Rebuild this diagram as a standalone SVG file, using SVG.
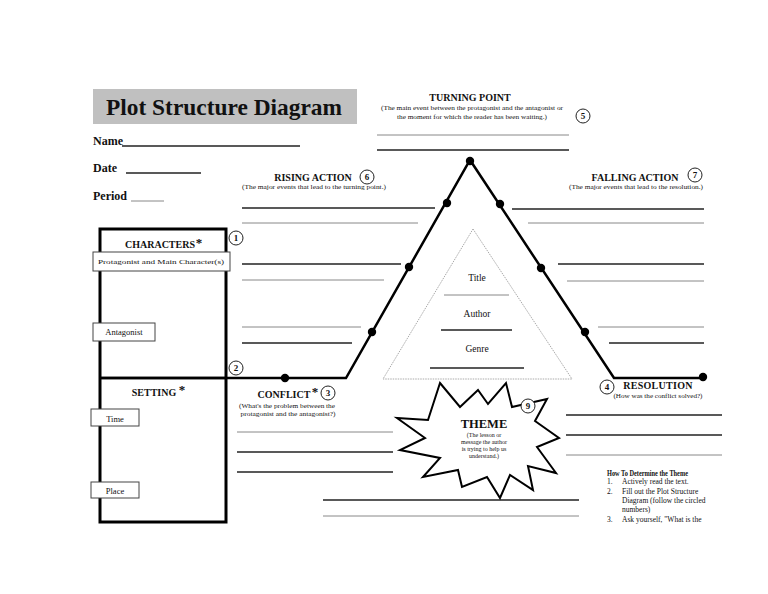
<svg xmlns="http://www.w3.org/2000/svg" width="768" height="594" viewBox="0 0 768 594">
<style>
text{font-family:"Liberation Serif","Times New Roman",serif;fill:#111}
.b{font-weight:bold}
.hd{font-weight:bold;font-size:10px}
.sm{font-size:6.5px}
.lbl{font-size:8.5px}
.dk{stroke:#222;stroke-width:1.3}
.gr{stroke:#888;stroke-width:1}
.num{fill:#fff;stroke:#222;stroke-width:1}
.nt{font-size:9px;font-weight:bold;text-anchor:middle}
.box{fill:#fff;stroke:#444;stroke-width:1}
.dot{fill:#000}
</style>
<rect width="768" height="594" fill="#fff"/>

<g id="header">
<rect x="93" y="89" width="264" height="35" fill="#c0c0c0"/>
<text x="224" y="115" class="b" font-size="22.5" text-anchor="middle" textLength="236" lengthAdjust="spacingAndGlyphs">Plot Structure Diagram</text>
<text x="93" y="145" class="b" font-size="12">Name</text>
<line x1="122" y1="146" x2="300" y2="146" class="dk"/>
<text x="93" y="172" class="b" font-size="12">Date</text>
<line x1="126" y1="173" x2="201" y2="173" class="dk"/>
<text x="93" y="200" class="b" font-size="12">Period</text>
<line x1="131" y1="201" x2="164" y2="201" class="gr"/>
</g>

<g id="connectors" fill="none">
<polyline points="100,378 346,378 470,160 614,378 703,378" stroke="#000" stroke-width="2.5" stroke-linejoin="miter"/>
<circle cx="285" cy="378" r="4.2" class="dot"/>
<circle cx="372" cy="332" r="4.2" class="dot"/>
<circle cx="409" cy="267" r="4.2" class="dot"/>
<circle cx="447" cy="203" r="4.2" class="dot"/>
<circle cx="470" cy="161" r="4.2" class="dot"/>
<circle cx="500" cy="204" r="4.2" class="dot"/>
<circle cx="541" cy="268" r="4.2" class="dot"/>
<circle cx="585" cy="332" r="4.2" class="dot"/>
<circle cx="703" cy="377" r="4.2" class="dot"/>
</g>

<g id="turning-point">
<text x="470" y="101" class="hd" text-anchor="middle">TURNING POINT</text>
<text x="472" y="110" class="sm" text-anchor="middle" textLength="182" lengthAdjust="spacingAndGlyphs">(The main event between the protagonist and the antagonist or</text>
<text x="472" y="119" class="sm" text-anchor="middle" textLength="150" lengthAdjust="spacingAndGlyphs">the moment for which the reader has been waiting.)</text>
<circle cx="583" cy="116" r="7" class="num"/><text x="583" y="119" class="nt">5</text>
<line x1="377" y1="135" x2="569" y2="135" class="gr"/>
<line x1="377" y1="150" x2="569" y2="150" class="dk"/>
</g>

<g id="rising-action">
<text x="313" y="181" class="hd" text-anchor="middle">RISING ACTION</text>
<circle cx="367" cy="177" r="7" class="num"/><text x="367" y="180" class="nt">6</text>
<text x="314" y="189" class="sm" text-anchor="middle" textLength="144" lengthAdjust="spacingAndGlyphs">(The major events that lead to the turning point.)</text>
<line x1="242" y1="208" x2="435" y2="208" class="dk"/>
<line x1="242" y1="223" x2="418" y2="223" class="gr"/>
<line x1="242" y1="264" x2="401" y2="264" class="dk"/>
<line x1="242" y1="280" x2="384" y2="280" class="gr"/>
<line x1="242" y1="327" x2="361" y2="327" class="gr"/>
<line x1="242" y1="343" x2="352" y2="343" class="dk"/>
</g>

<g id="falling-action">
<text x="635" y="181" class="hd" text-anchor="middle">FALLING ACTION</text>
<circle cx="695" cy="175" r="7" class="num"/><text x="695" y="178" class="nt">7</text>
<text x="636" y="189" class="sm" text-anchor="middle" textLength="134" lengthAdjust="spacingAndGlyphs">(The major events that lead to the resolution.)</text>
<line x1="512" y1="209" x2="704" y2="209" class="dk"/>
<line x1="528" y1="223" x2="704" y2="223" class="gr"/>
<line x1="558" y1="264" x2="704" y2="264" class="dk"/>
<line x1="567" y1="281" x2="704" y2="281" class="gr"/>
<line x1="598" y1="327" x2="704" y2="327" class="gr"/>
<line x1="609" y1="343" x2="704" y2="343" class="dk"/>
</g>

<g id="story-info">
<polygon points="473,229 572,379 383,379" fill="none" stroke="#aaa" stroke-width="1" stroke-dasharray="1.5,1"/>
<text x="477" y="281" font-size="9.5" text-anchor="middle">Title</text>
<line x1="444" y1="295" x2="509" y2="295" class="gr"/>
<text x="477" y="317" font-size="9.5" text-anchor="middle">Author</text>
<line x1="441" y1="330" x2="512" y2="330" class="dk"/>
<text x="477" y="352" font-size="9.5" text-anchor="middle">Genre</text>
<line x1="430" y1="368" x2="524" y2="368" class="dk"/>
</g>

<g id="characters-setting">
<rect x="100" y="229" width="126" height="293" fill="none" stroke="#000" stroke-width="3"/>
<line x1="100" y1="378" x2="226" y2="378" stroke="#000" stroke-width="2.5"/>
<text x="160" y="248" class="hd" text-anchor="middle">CHARACTERS</text>
<text x="199" y="247" font-size="13" class="b" text-anchor="middle">*</text>
<circle cx="236" cy="238" r="7" class="num"/><text x="236" y="241" class="nt">1</text>
<rect x="93" y="252" width="137" height="19" class="box"/>
<text x="161" y="264" class="sm" text-anchor="middle" textLength="126" lengthAdjust="spacingAndGlyphs">Protagonist and Main Character(s)</text>
<rect x="93" y="323" width="62" height="18" class="box"/>
<text x="124" y="335" class="lbl" text-anchor="middle">Antagonist</text>
<circle cx="236" cy="368" r="7" class="num"/><text x="236" y="371" class="nt">2</text>
<text x="154" y="396" class="hd" text-anchor="middle">SETTING</text>
<text x="182" y="394" font-size="13" class="b" text-anchor="middle">*</text>
<rect x="91" y="409" width="48" height="17" class="box"/>
<text x="115" y="422" class="lbl" text-anchor="middle">Time</text>
<rect x="91" y="482" width="48" height="16" class="box"/>
<text x="115" y="494" class="lbl" text-anchor="middle">Place</text>
</g>

<g id="conflict">
<text x="284" y="398" class="hd" text-anchor="middle">CONFLICT</text>
<text x="315" y="396" font-size="13" class="b" text-anchor="middle">*</text>
<circle cx="328" cy="393" r="7" class="num"/><text x="328" y="396" class="nt">3</text>
<text x="287" y="408" class="sm" text-anchor="middle" textLength="96" lengthAdjust="spacingAndGlyphs">(What's the problem between the</text>
<text x="288" y="416" class="sm" text-anchor="middle" textLength="95" lengthAdjust="spacingAndGlyphs">protagonist and the antagonist?)</text>
<line x1="237" y1="432" x2="393" y2="432" class="gr"/>
<line x1="237" y1="452" x2="393" y2="452" class="dk"/>
<line x1="237" y1="472" x2="393" y2="472" class="dk"/>
<line x1="323" y1="500" x2="579" y2="500" class="dk"/>
<line x1="323" y1="516" x2="579" y2="516" class="gr"/>
</g>

<g id="theme">
<polygon points="440,383 460,407 478,390 488,404 506,383 512,407 547,399 535,421 559,438 537,447 556,473 528,466 533,490 510,475 500,498 487,477 462,487 458,470 423,477 440,458 400,450 425,438 397,418 428,420" fill="#fff" stroke="#000" stroke-width="2" stroke-linejoin="miter"/>
<circle cx="528" cy="406" r="7" class="num"/><text x="528" y="409" class="nt">9</text>
<text x="484" y="428" class="b" font-size="12.5" text-anchor="middle">THEME</text>
<text x="484" y="437" font-size="6" text-anchor="middle">(The lesson or</text>
<text x="484" y="444" font-size="6" text-anchor="middle">message the author</text>
<text x="484" y="451" font-size="6" text-anchor="middle">is trying to help us</text>
<text x="484" y="458" font-size="6" text-anchor="middle">understand.)</text>
</g>

<g id="resolution">
<circle cx="607" cy="387" r="7" class="num"/><text x="607" y="390" class="nt">4</text>
<text x="658" y="389" class="hd" text-anchor="middle" letter-spacing="0.3">RESOLUTION</text>
<text x="658" y="398" class="sm" text-anchor="middle" textLength="89" lengthAdjust="spacingAndGlyphs">(How was the conflict solved?)</text>
<line x1="566" y1="415" x2="722" y2="415" class="dk"/>
<line x1="566" y1="435" x2="722" y2="435" class="dk"/>
<line x1="566" y1="455" x2="722" y2="455" class="gr"/>
</g>

<g id="how-to">
<text x="607" y="476" class="b" font-size="7.5" textLength="81" lengthAdjust="spacingAndGlyphs">How To Determine the Theme</text>
<text x="607" y="484" font-size="7.5">1.</text><text x="622" y="484" font-size="7.5">Actively read the text.</text>
<text x="607" y="494" font-size="7.5">2.</text><text x="622" y="494" font-size="7.5">Fill out the Plot Structure</text>
<text x="622" y="503" font-size="7.5">Diagram (follow the circled</text>
<text x="622" y="512" font-size="7.5">numbers)</text>
<text x="607" y="522" font-size="7.5">3.</text><text x="622" y="522" font-size="7.5">Ask yourself, "What is the</text>
</g>
</svg>
